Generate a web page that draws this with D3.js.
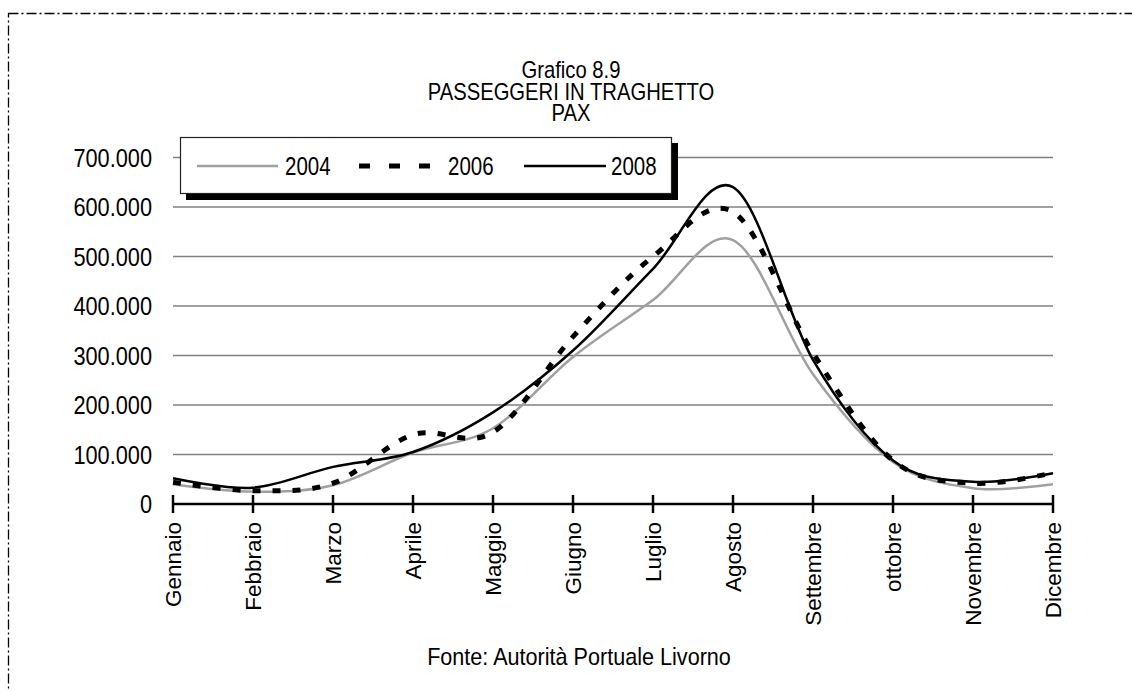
<!DOCTYPE html>
<html>
<head>
<meta charset="utf-8">
<script src="https://cdn.jsdelivr.net/npm/d3@7"></script>
<style>
  html, body { margin: 0; padding: 0; background: #fff; }
  svg { display: block; }
  text { font-family: "Liberation Sans", Arial, sans-serif; fill: #000; }
</style>
</head>
<body>
<svg id="chart" width="1132" height="691"></svg>
<script>
const months = ["Gennaio","Febbraio","Marzo","Aprile","Maggio","Giugno","Luglio","Agosto","Settembre","ottobre","Novembre","Dicembre"];
const series2004 = [40000, 25000, 38000, 104000, 153000, 297000, 412000, 533000, 262000, 85000, 32000, 40000];
const series2006 = [44000, 27000, 42000, 140000, 145000, 338000, 500000, 590000, 305000, 88000, 42000, 63000];
const series2008 = [52000, 33000, 75000, 105000, 185000, 310000, 475000, 640000, 291000, 88000, 45000, 62000];
const seriesNames = ["2004", "2006", "2008"];
const yTicks = [0, 100000, 200000, 300000, 400000, 500000, 600000, 700000];
const titleLines = ["Grafico 8.9", "PASSEGGERI IN TRAGHETTO", "PAX"];
const sourceText = "Fonte: Autorità Portuale Livorno";

const svg = d3.select("#chart");

// outer dash-dot frame
svg.append("rect")
  .attr("x", 8.5).attr("y", 13.5).attr("width", 1200).attr("height", 800)
  .attr("fill", "none").attr("stroke", "#000").attr("stroke-width", 1.3)
  .attr("stroke-dasharray", "10,3,2,3");

const x = d3.scalePoint().domain(months).range([173, 1053]);
const y = d3.scaleLinear().domain([0, 700000]).range([504, 157.5]);

// gridlines
svg.append("g").selectAll("line").data(yTicks.filter(d => d > 0)).join("line")
  .attr("x1", 173).attr("x2", 1053)
  .attr("y1", d => y(d)).attr("y2", d => y(d))
  .attr("stroke", "#808080").attr("stroke-width", 1.5);

// y labels (condensed)
const fmt = d => d === 0 ? "0" : d3.format(",")(d).replace(/,/g, ".");
svg.append("g").selectAll("text").data(yTicks).join("text")
  .attr("transform", d => `translate(152,${y(d)}) scale(0.87,1)`)
  .attr("dy", "0.36em")
  .attr("text-anchor", "end").attr("font-size", 25)
  .text(fmt);

// x axis
const xAxis = svg.append("g").attr("transform", "translate(0,504)")
  .call(d3.axisBottom(x).tickSize(0).tickFormat(""));
xAxis.select(".domain").attr("stroke", "#000").attr("stroke-width", 2.5).attr("d", "M173,0H1053");
svg.append("g").selectAll("line").data(months).join("line")
  .attr("x1", d => x(d)).attr("x2", d => x(d))
  .attr("y1", 495).attr("y2", 513)
  .attr("stroke", "#000").attr("stroke-width", 2.5);

svg.append("g").selectAll("text").data(months).join("text")
  .attr("transform", d => `translate(${x(d)},522) rotate(-90)`)
  .attr("dy", "0.36em")
  .attr("text-anchor", "end").attr("font-size", 22.5)
  .text(d => d);

// lines
const line = d3.line().x((d, i) => x(months[i])).y(d => y(d)).curve(d3.curveCardinal.tension(0));
const styles = [
  { data: series2004, stroke: "#a0a0a0", width: 2.5, dash: null },
  { data: series2006, stroke: "#000", width: 5, dash: "8,12" },
  { data: series2008, stroke: "#000", width: 2.5, dash: null }
];
styles.forEach(s => {
  svg.append("path").datum(s.data).attr("d", line)
    .attr("fill", "none").attr("stroke", s.stroke).attr("stroke-width", s.width)
    .attr("stroke-dasharray", s.dash);
});

// legend
const lg = svg.append("g");
lg.append("rect").attr("x", 186).attr("y", 143).attr("width", 492).attr("height", 57).attr("fill", "#000");
lg.append("rect").attr("x", 180.5).attr("y", 137.5).attr("width", 491).attr("height", 56)
  .attr("fill", "#fff").attr("stroke", "#222").attr("stroke-width", 1.2);
const legItems = [
  { x1: 197, x2: 278, tx: 285 },
  { x1: 359, x2: 431, tx: 448 },
  { x1: 524, x2: 606, tx: 611 }
];
legItems.forEach((it, i) => {
  lg.append("line").attr("x1", it.x1).attr("x2", it.x2).attr("y1", 166).attr("y2", 166)
    .attr("stroke", styles[i].stroke)
    .attr("stroke-width", i === 1 ? 5 : 2.5)
    .attr("stroke-dasharray", i === 1 ? "11,19" : null);
  lg.append("text").attr("transform", `translate(${it.tx},166) scale(0.82,1)`).attr("dy", "0.36em")
    .attr("font-size", 25).text(seriesNames[i]);
});

// title
svg.append("g").selectAll("text").data(titleLines).join("text")
  .attr("transform", (d, i) => `translate(571,${78 + i * 21.5}) scale(0.88,1)`)
  .attr("text-anchor", "middle").attr("font-size", 23)
  .text(d => d);

// source
svg.append("text")
  .attr("transform", "translate(579,665) scale(0.9,1)").attr("text-anchor", "middle")
  .attr("font-size", 24).text(sourceText);
</script>
</body>
</html>
